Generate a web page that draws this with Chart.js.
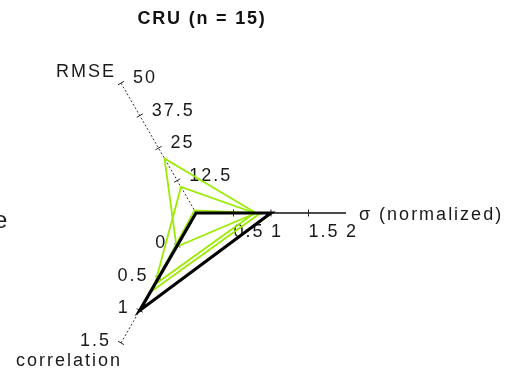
<!DOCTYPE html>
<html>
<head>
<meta charset="utf-8">
<script src="https://cdn.jsdelivr.net/npm/chart.js@4/dist/chart.umd.min.js"></script>
<style>
  html, body { margin: 0; padding: 0; background: #fff; }
  #wrap { width: 511px; height: 372px; }
</style>
</head>
<body>
<div id="wrap"><canvas id="c" width="511" height="372"></canvas></div>
<script>
// Axes, in clockwise drawing order starting from the right
const axisNames = ['σ (normalized)', 'correlation', 'RMSE'];
const axisMin = [0, -0.5, 0];
const axisMax = [2, 1.5, 50];

// Tick values and labels for each axis
const sigmaTicks = [0.5, 1, 1.5, 2];
const corrTicks = [0, 0.5, 1, 1.5];
const rmseTicks = [12.5, 25, 37.5, 50];

// Series values: [σ, correlation, RMSE]
const observed = [1, 1, 0];
const modelA = [0.8, 0.02, 21];
const modelB = [0.78, 0.6, 10];
const modelC = [0.86, 0.72, 1];

const title = 'CRU (n = 15)';

const frac = (v, i) => (v - axisMin[i]) / (axisMax[i] - axisMin[i]);
const toRadar = arr => arr.map(frac);

const GREEN = '#9bec00';
const FONT = '18px "Liberation Sans", Arial, sans-serif';

const axisDecor = {
  id: 'axisDecor',
  beforeDatasetsDraw(chart) {
    const s = chart.scales.r;
    const ctx = chart.ctx;
    const cx = s.xCenter, cy = s.yCenter;
    const pos = (i, v) => s.getPointPosition(i, s.getDistanceFromCenterForValue(frac(v, i)));
    const dir = i => {
      const p = s.getPointPosition(i, 1);
      return { x: p.x - cx, y: p.y - cy };
    };
    ctx.save();
    ctx.font = FONT;
    ctx.letterSpacing = '2px';
    ctx.fillStyle = '#1a1a1a';
    ctx.strokeStyle = '#222';
    ctx.lineWidth = 1;

    const tickMark = (i, v, half) => {
      const p = pos(i, v), d = dir(i);
      const nx = -d.y, ny = d.x;
      ctx.beginPath();
      ctx.moveTo(p.x - nx * half, p.y - ny * half);
      ctx.lineTo(p.x + nx * half, p.y + ny * half);
      ctx.stroke();
      return p;
    };

    // σ axis
    ctx.textAlign = 'left';
    ctx.textBaseline = 'alphabetic';
    sigmaTicks.forEach(v => {
      const p = (v < axisMax[0]) ? tickMark(0, v, 3.5) : pos(0, v);
      ctx.fillText(String(v), p.x, p.y + 24);
    });
    // correlation axis
    ctx.textAlign = 'right';
    corrTicks.forEach(v => {
      const p = tickMark(1, v, 3.5);
      ctx.fillText(String(v), p.x - 10, p.y + 3);
    });
    // RMSE axis
    ctx.textAlign = 'left';
    rmseTicks.forEach(v => {
      const p = tickMark(2, v, 3.5);
      ctx.fillText(String(v), p.x + 12, p.y);
    });

    // axis titles
    const eS = pos(0, axisMax[0]);
    const eC = pos(1, axisMax[1]);
    const eR = pos(2, axisMax[2]);
    ctx.textAlign = 'left';
    ctx.fillText(axisNames[0], eS.x + 13, eS.y + 7);
    ctx.textAlign = 'right';
    ctx.fillText(axisNames[1], eC.x + 1, eC.y + 23);
    ctx.fillText(axisNames[2], eR.x - 5, eR.y - 6);

    // neighbouring panel label, clipped at the left edge
    ctx.textAlign = 'left';
    ctx.font = '24px "Liberation Sans", Arial, sans-serif';
    ctx.fillText('e', -6, 228);

    // chart title
    ctx.font = 'bold 18px "Liberation Sans", Arial, sans-serif';
    ctx.letterSpacing = '1.8px';
    ctx.fillStyle = '#111';
    ctx.textAlign = 'center';
    ctx.fillText(title, 202, 24);
    ctx.restore();
  }
};

new Chart(document.getElementById('c'), {
  type: 'radar',
  data: {
    labels: axisNames,
    datasets: [
      { label: 'observed', data: toRadar(observed), borderColor: '#000', borderWidth: 3.2 },
      { label: 'A', data: toRadar(modelA), borderColor: GREEN, borderWidth: 1.8 },
      { label: 'B', data: toRadar(modelB), borderColor: GREEN, borderWidth: 1.8 },
      { label: 'C', data: toRadar(modelC), borderColor: GREEN, borderWidth: 1.8 }
    ]
  },
  options: {
    responsive: false,
    animation: false,
    devicePixelRatio: 1,
    layout: { padding: { left: 46, right: 165, top: 63, bottom: 9 } },
    elements: {
      line: { fill: false, tension: 0, borderJoinStyle: 'miter' },
      point: { radius: 0, hoverRadius: 0 }
    },
    plugins: { legend: { display: false }, tooltip: { enabled: false }, title: { display: false } },
    scales: {
      r: {
        min: 0,
        max: 1,
        startAngle: 90,
        grid: { display: false },
        ticks: { display: false },
        pointLabels: { display: false },
        angleLines: {
          display: true,
          color: ctx => ctx.index === 0 ? '#111' : '#333',
          lineWidth: ctx => ctx.index === 0 ? 1.6 : 1,
          borderDash: ctx => ctx.index === 0 ? [] : [2, 2]
        }
      }
    }
  },
  plugins: [axisDecor]
});
</script>
</body>
</html>
